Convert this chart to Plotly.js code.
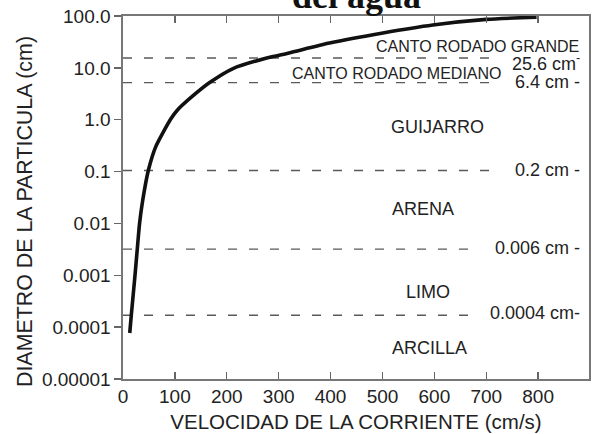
<!DOCTYPE html>
<html><head><meta charset="utf-8">
<script src="https://cdn.plot.ly/plotly-3.0.1.min.js"></script>
<style>html,body{margin:0;padding:0;background:#fff}</style>
</head><body><div id="chart" style="width:598px;height:434px"></div>
<script>
// Curve: current velocity (cm/s) vs particle diameter (cm)
const velocity = [13, 16, 23, 27.5, 32, 38, 49, 63, 92, 105, 135, 167, 212, 277, 320, 398, 501, 597, 700, 797];
const diameter = [7.7e-5, 1.7e-4, 9.7e-4, 0.0032, 0.0102, 0.028, 0.107, 0.3, 1.03, 1.54, 2.9, 5.2, 9.7, 15.5, 19.4, 30, 47, 67, 86, 95];

// Grain-size boundaries (as drawn) and their labels
const boundaryDiam = [15.5, 5.2, 0.105, 0.0032, 0.00017];
const boundaryEnd = [716, 726, 726, 683, 677];
const boundaryLabels = ['25.6 cm<sup>-</sup>', '6.4 cm -', '0.2 cm -', '0.006 cm -', '0.0004 cm-'];

// Sediment classes
const classNames = ['CANTO RODADO GRANDE', 'CANTO RODADO MEDIANO', 'GUIJARRO', 'ARENA', 'LIMO', 'ARCILLA'];

// Axis ticks
const yTickVals = [1e-5, 1e-4, 1e-3, 1e-2, 1e-1, 1, 10, 100];
const yTickText = ['0.00001', '0.0001', '0.001', '0.01', '0.1', '1.0', '10.0', '100.0'];
const xTickVals = [0, 100, 200, 300, 400, 500, 600, 700, 800];

const FONT = '"Liberation Sans", Arial, Helvetica, sans-serif';
const TXT = '#222';

const traces = [];
boundaryDiam.forEach((d, i) => {
  traces.push({
    x: [0, boundaryEnd[i]], y: [d, d], mode: 'lines', type: 'scatter',
    line: {color: '#5a5a5a', width: 1.4, dash: '9px,12px'}, hoverinfo: 'skip', showlegend: false
  });
});
traces.push({
  x: velocity, y: diameter, mode: 'lines', type: 'scatter',
  line: {color: '#111', width: 3.6, shape: 'spline', smoothing: 0.6}, showlegend: false
});

// label placement (x in cm/s, y in cm)
const boundaryLabelY = [12.6, 5.3, 0.107, 0.00336, 0.000187];
const classPos = [
  {x: 882, y: 26, anchor: 'right', size: 16},
  {x: 735, y: 7.96, anchor: 'right', size: 16},
  {x: 607, y: 0.72, anchor: 'center', size: 18},
  {x: 578, y: 0.019, anchor: 'center', size: 18},
  {x: 587, y: 0.000476, anchor: 'center', size: 18},
  {x: 591, y: 3.9e-5, anchor: 'center', size: 18}
];

const annotations = [];
classNames.forEach((t, i) => {
  const p = classPos[i];
  annotations.push({x: p.x, y: Math.log10(p.y), xref: 'x', yref: 'y', text: t, showarrow: false,
    xanchor: p.anchor, yanchor: 'middle', font: {family: FONT, size: p.size, color: TXT}});
});
boundaryLabels.forEach((t, i) => {
  annotations.push({x: 884, y: Math.log10(boundaryLabelY[i]), xref: 'x', yref: 'y', text: t, showarrow: false,
    xanchor: 'right', yanchor: 'middle', font: {family: FONT, size: 18, color: TXT}});
});
annotations.push({x: 0.5, y: 0.995, xref: 'paper', yref: 'paper', text: '<b>del agua</b>', showarrow: false,
  xanchor: 'center', yanchor: 'bottom', font: {family: '"Liberation Serif", "Times New Roman", serif', size: 36, color: '#111'}});
// y-axis title (placed slightly below the plot centre, as in the reference)
annotations.push({x: -0.2103, y: 0.46, xref: 'paper', yref: 'paper', text: 'DIAMETRO DE LA PARTICULA (cm)',
  textangle: -90, showarrow: false, xanchor: 'center', yanchor: 'middle',
  font: {family: FONT, size: 21.4, color: TXT}});

const layout = {
  width: 598, height: 434,
  margin: {l: 123, r: 9, t: 16, b: 55},
  paper_bgcolor: '#fff', plot_bgcolor: '#fff',
  showlegend: false,
  font: {family: FONT, color: TXT},
  xaxis: {
    range: [0, 898], tickvals: xTickVals, ticks: 'inside', ticklen: 7, tickwidth: 1.3, tickcolor: '#666',
    showline: true, linecolor: '#777', linewidth: 1.6, mirror: 'ticks', showgrid: false, zeroline: false,
    tickfont: {family: FONT, size: 19, color: TXT},
    title: {text: 'VELOCIDAD DE LA CORRIENTE (cm/s)', font: {family: FONT, size: 20.5, color: TXT}, standoff: 8}
  },
  yaxis: {
    type: 'log', range: [-5, 2], tickvals: yTickVals, ticktext: yTickText,
    ticks: 'outside', ticklen: 7, tickwidth: 1.3, tickcolor: '#666',
    showline: true, linecolor: '#777', linewidth: 1.6, mirror: true, showgrid: false, zeroline: false,
    tickfont: {family: FONT, size: 19, color: TXT}
  },
  annotations: annotations
};

Plotly.newPlot('chart', traces, layout, {staticPlot: true, displayModeBar: false});
</script>
</body></html>
